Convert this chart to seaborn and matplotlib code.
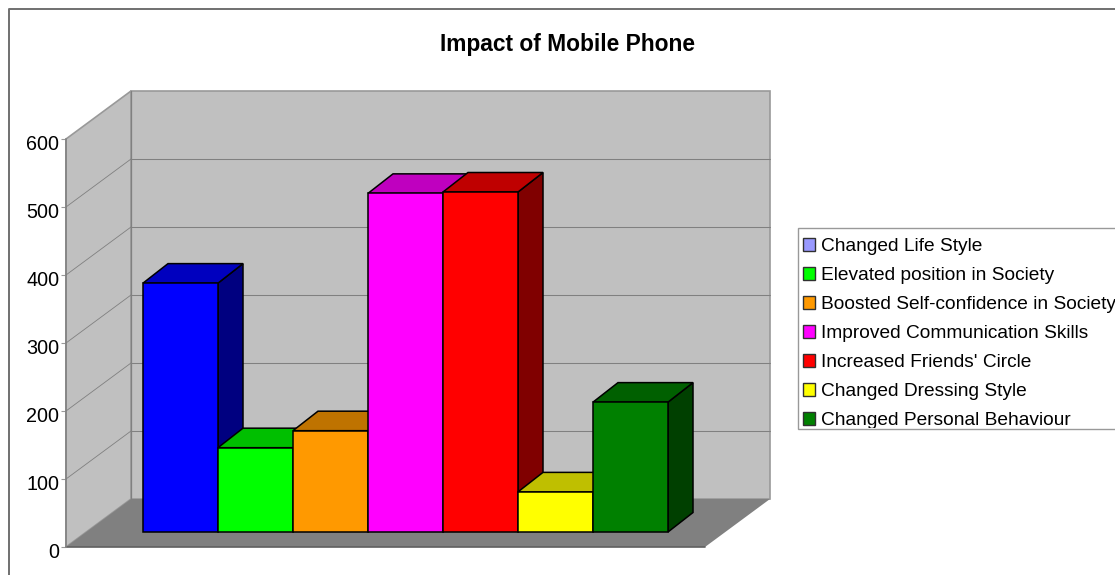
# impacto del telefono movil, barras con efecto 3D
import matplotlib
matplotlib.use('Agg')
import matplotlib.pyplot as plt
import seaborn as sns
import pandas as pd
from matplotlib.patches import Patch, Polygon, Rectangle
from matplotlib.transforms import Bbox, ScaledTranslation

categorias = ['Changed Life Style', 'Elevated position in Society', 'Boosted Self-confidence in Society',
              'Improved Communication Skills', "Increased Friends' Circle", 'Changed Dressing Style',
              'Changed Personal Behaviour']
valores = [366, 124, 149, 498, 500, 59, 191]
colores = ['#0000ff', '#00ff00', '#ff9900', '#ff00ff', '#ff0000', '#ffff00', '#008000']
colores_leyenda = ['#9999ff', '#00ff00', '#ff9900', '#ff00ff', '#ff0000', '#ffff00', '#008000']
marcas_y = [0, 100, 200, 300, 400, 500, 600]

W, H = 1115, 575
PX_Y = 408 / 600  # pixeles por unidad
PARED_DX, PARED_DY = 65, 48
BARRA_DX, BARRA_DY = 25, 19.5
GRIS = '#808080'


def eje_en_pixeles(fig, x0, x1, y_abajo, y_arriba):
    return fig.add_axes([x0 / W, 1 - y_abajo / H, (x1 - x0) / W, (y_abajo - y_arriba) / H])


sns.set_theme(style='white')
plt.rcParams['font.family'] = ['Liberation Sans', 'DejaVu Sans']

fig = plt.figure(figsize=(W / 100, H / 100), dpi=100, facecolor='white')

# Fondo: marco, paredes y piso
fondo = fig.add_axes([0, 0, 1, 1])
fondo.set_xlim(0, W)
fondo.set_ylim(H, 0)
fondo.axis('off')
fondo.plot([9, 9, W], [H, 9, 9], color='#707070', lw=1.4, clip_on=False)

x0, x1, y0, y_top = 66, 705, 547, 139
pared_atras = Polygon([(x0 + PARED_DX, y0 - PARED_DY), (x1 + PARED_DX, y0 - PARED_DY),
                       (x1 + PARED_DX, y_top - PARED_DY), (x0 + PARED_DX, y_top - PARED_DY)],
                      facecolor='#c0c0c0', edgecolor='#999999', lw=1.2)
pared_izq = Polygon([(x0, y0), (x0 + PARED_DX, y0 - PARED_DY), (x0 + PARED_DX, y_top - PARED_DY), (x0, y_top)],
                    facecolor='#c0c0c0', edgecolor='#999999', lw=1.2)
piso = Polygon([(x0, y0), (x1, y0), (x1 + PARED_DX, y0 - PARED_DY), (x0 + PARED_DX, y0 - PARED_DY)],
               facecolor='#808080', edgecolor='none')
fondo.add_patch(pared_atras)
fondo.add_patch(pared_izq)
fondo.add_patch(piso)
for m in marcas_y[1:-1]:
    y = y0 - m * PX_Y
    fondo.plot([x0, x0 + PARED_DX], [y, y - PARED_DY], color=GRIS, lw=0.6)
    fondo.plot([x0 + PARED_DX, x1 + PARED_DX], [y - PARED_DY, y - PARED_DY], color=GRIS, lw=0.75)
fondo.plot([x0 + PARED_DX, x0 + PARED_DX], [y0 - PARED_DY, y_top - PARED_DY], color=GRIS, lw=0.9)
fondo.plot([x0, x1], [y0, y0], color='#606060', lw=1.2)

# Eje de valores
ax_y = eje_en_pixeles(fig, x0, x1, y0, y_top)
ax_y.patch.set_alpha(0)
ax_y.set_xlim(0, 1)
ax_y.set_ylim(0, 600)
ax_y.set_yticks(marcas_y, [str(m) for m in marcas_y], fontsize=14.2, color='black')
ax_y.set_xticks([])
ax_y.tick_params(axis='y', length=3.6, width=0.8, color='#999999', pad=1.3, left=True)
baja = ScaledTranslation(0, -3 / 100, fig.dpi_scale_trans)
for etiqueta in ax_y.get_yticklabels():
    etiqueta.set_transform(etiqueta.get_transform() + baja)
for lado in ['top', 'right', 'bottom']:
    ax_y.spines[lado].set_visible(False)
ax_y.spines['left'].set_color(GRIS)
ax_y.spines['left'].set_linewidth(1.1)

# Barras
df = pd.DataFrame({'categoria': categorias, 'valor': valores})
ax = eje_en_pixeles(fig, 143, 668, 532, 532 - 408)
ax.patch.set_alpha(0)
sns.barplot(ax=ax, data=df, x='categoria', y='valor', hue='categoria', palette=colores, width=1, dodge=False,
            saturation=1, edgecolor='black', linewidth=1.1, legend=False)
ax.set_xlim(-0.5, 6.5)
ax.set_ylim(0, 600)
ax.axis('off')

dx = BARRA_DX / (525 / 7)
dy = BARRA_DY / PX_Y
for i, barra in enumerate(ax.patches[:len(valores)]):
    bx, ancho, alto = barra.get_x(), barra.get_width(), barra.get_height()
    r, g, b = matplotlib.colors.to_rgb(colores[i])
    barra.set_zorder(3 * i + 5)
    barra.set_clip_on(False)
    lado = Polygon([(bx + ancho, 0), (bx + ancho + dx, dy), (bx + ancho + dx, alto + dy), (bx + ancho, alto)],
                   facecolor=(r * 0.5, g * 0.5, b * 0.5), edgecolor='black', lw=1.1, zorder=3 * i + 3, clip_on=False)
    tapa = Polygon([(bx, alto), (bx + ancho, alto), (bx + ancho + dx, alto + dy), (bx + dx, alto + dy)],
                   facecolor=(r * 0.75, g * 0.75, b * 0.75), edgecolor='black', lw=1.1, zorder=3 * i + 4,
                   clip_on=False)
    ax.add_patch(lado)
    ax.add_patch(tapa)

# Titulo
fig.text(568 / W, 1 - 45 / H, 'Impact of Mobile Phone', fontsize=16.4, fontweight='bold', ha='center',
         va='center', color='black')

# Leyenda
fondo.add_patch(Rectangle((797.5, 227.5), W, 201.5, facecolor='white', edgecolor='#999999', lw=1, clip_on=False))
manejadores = [Patch(facecolor=c, edgecolor='#303030', lw=1) for c in colores_leyenda]
leyenda = fondo.legend(manejadores, categorias, loc='upper left', bbox_to_anchor=(803 / W, 1 - 238 / H),
                       bbox_transform=fig.transFigure, frameon=False, fontsize=13.8, borderpad=0, borderaxespad=0,
                       labelspacing=0.61, handlelength=0.63, handleheight=0.68, handletextpad=0.31,
                       labelcolor='black')
recorte = Bbox([[797, H - 428], [W, H - 227]])
for t in leyenda.get_texts():
    t.set_clip_box(recorte)
    t.set_clip_on(True)

fig.savefig('out.png', dpi=100)
